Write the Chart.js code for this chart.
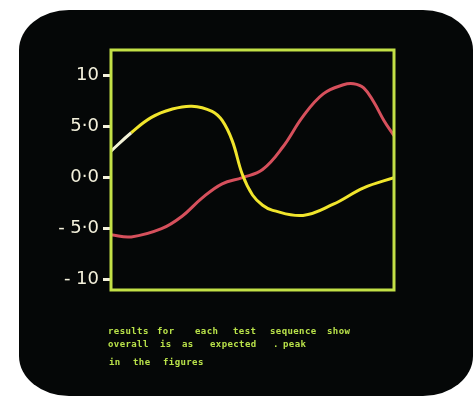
<!DOCTYPE html>
<html>
<head>
<meta charset="utf-8">
<script src="https://cdn.jsdelivr.net/npm/chart.js@4"></script>
<style>
  html, body { margin: 0; padding: 0; background: #fff; }
  #screen {
    position: absolute; left: 19px; top: 10px; width: 454px; height: 386px;
    background: #050707; border-radius: 50px / 40px;
  }
  #wrap { position: absolute; left: 0; top: 0; width: 476px; height: 397px; }
  .note {
    position: absolute; color: #b9e24a;
    font: bold 9px "DejaVu Sans Mono", monospace; letter-spacing: 0.4px;
    white-space: pre; filter: blur(0.7px); line-height: 9px;
  }
</style>
</head>
<body>
<div id="screen"></div>
<div id="wrap"><canvas id="c" width="476" height="397"></canvas></div>
<div id="notes"></div>
<script>
// x positions are in tenths of the plot width (0..28)
xYellow = [0, 2, 4, 6, 8, 10, 11, 12, 13, 14, 15, 16, 19, 22, 25, 28]
yellow  = [2.6, 4.4, 5.9, 6.7, 7.0, 6.5, 5.6, 3.6, 0.3, -1.7, -2.7, -3.2, -3.7, -2.6, -1.0, 0.0]

xRed = [0, 2, 5, 7, 9, 11, 13, 15, 17, 19, 21, 23, 24, 25, 26, 27, 28]
red  = [-5.6, -5.8, -5.0, -3.8, -2.0, -0.6, 0.0, 0.8, 3.0, 6.0, 8.2, 9.1, 9.2, 8.8, 7.4, 5.6, 4.1]

yTicks = [-10, -5, 0, 5, 10]
tickLabels = {'10': '10', '5': '5·0', '0': '0·0', '-5': '- 5·0', '-10': '- 10'}

// caption words under the plot (blurred on the screen): [text, left, top]
notes = [
  ['results', 108, 327], ['for', 157, 327], ['each', 195, 327], ['test', 233, 327], ['sequence', 270, 327], ['show', 327, 327],
  ['overall', 108, 340], ['is', 160, 340], ['as', 182, 340], ['expected', 210, 340], ['.', 273, 340], ['peak', 283, 340],
  ['in', 109, 358], ['the', 133, 358], ['figures', 163, 358]
]
notes.forEach(n => {
  const d = document.createElement('div')
  d.className = 'note'
  d.textContent = n[0]
  d.style.left = n[1] + 'px'
  d.style.top = n[2] + 'px'
  document.getElementById('notes').appendChild(d)
})

frameColor = '#c3e046'

framePlugin = {
  id: 'frame',
  afterDraw(chart) {
    const a = chart.chartArea, ctx = chart.ctx
    ctx.save()
    ctx.strokeStyle = frameColor
    ctx.lineWidth = 3
    ctx.strokeRect(a.left, a.top, a.right - a.left, a.bottom - a.top)
    ctx.restore()
  }
}

config = {
  type: 'line',
  data: {
    datasets: [
      {
        data: xYellow.map((x, i) => ({x: x, y: yellow[i]})),
        borderColor: '#f1e52c',
        borderWidth: 3,
        pointRadius: 0,
        tension: 0.4,
        segment: {
          borderColor: ctx => ctx.p0DataIndex < 1 ? '#f4f3d8' : undefined
        }
      },
      {
        data: xRed.map((x, i) => ({x: x, y: red[i]})),
        borderColor: '#d6505c',
        borderWidth: 3,
        pointRadius: 0,
        tension: 0.4
      }
    ]
  },
  options: {
    responsive: false,
    animation: false,
    layout: { padding: { left: 0, top: 50, right: 82, bottom: 107 } },
    plugins: { legend: false, tooltip: { enabled: false } },
    scales: {
      x: { type: 'linear', min: 0, max: 28, display: false },
      y: {
        min: -11, max: 12.5,
        afterBuildTicks: s => { s.ticks = yTicks.map(v => ({value: v})) },
        afterFit: s => { s.width = 111 },
        border: { display: false },
        grid: { drawOnChartArea: false, color: '#f4f1dc', lineWidth: 3, tickLength: 8 },
        ticks: {
          color: '#f4f1dc',
          font: { family: 'DejaVu Sans', size: 18 },
          padding: 4,
          callback: v => tickLabels[String(v)]
        }
      }
    }
  },
  plugins: [framePlugin]
}

var lineChart = new Chart(document.getElementById('c'), config)
</script>
</body>
</html>
